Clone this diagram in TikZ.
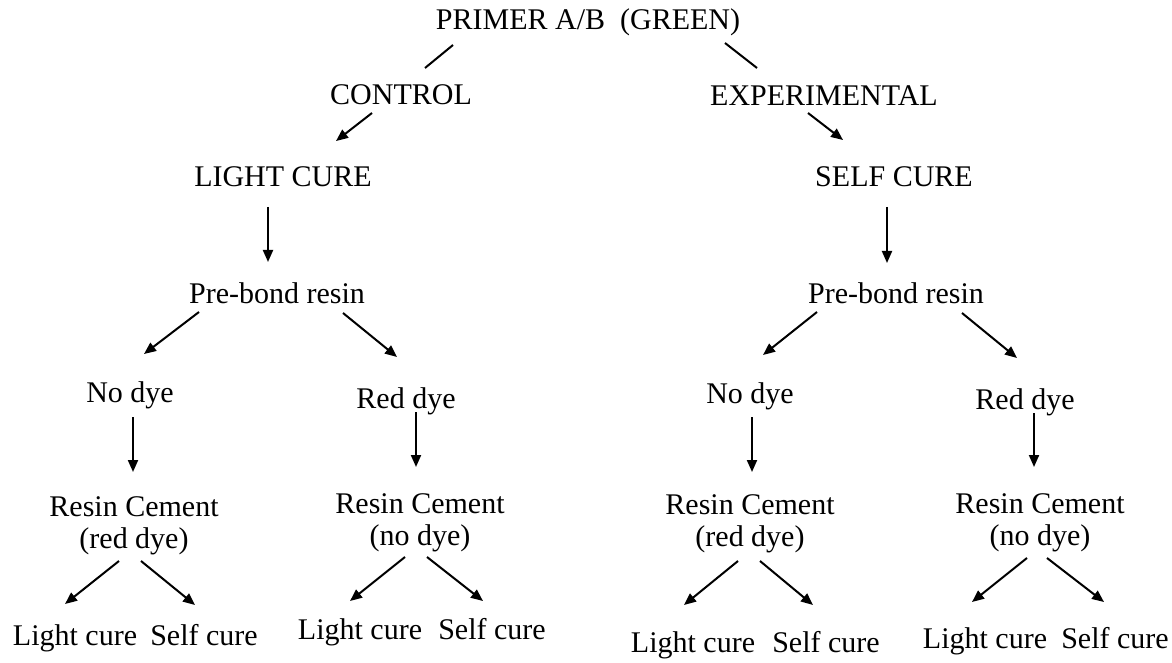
\documentclass[tikz,border=0pt]{standalone}
\usepackage{fontspec}
\setmainfont{Liberation Serif}
\usetikzlibrary{arrows.meta}
\begin{document}
\begin{tikzpicture}[x=0.5pt,y=-0.5pt,
    lbl/.style={inner sep=0pt,anchor=base,font=\fontsize{15}{15.75}\selectfont},
    twolbl/.style={lbl,align=center},
    link/.style={line width=1pt},
    arr/.style={line width=1pt,-{Triangle[length=6pt,width=5pt]}}]
    \useasboundingbox (0,0) rectangle (1172,663);%

    \node[lbl] (P) at (588,30) {PRIMER A/B\ \ (GREEN)};%
    \node[lbl] (C) at (401,105) {CONTROL};%
    \node[lbl] (E) at (824,106) {EXPERIMENTAL};%
    \node[lbl] (LC) at (283,187) {LIGHT CURE};%
    \node[lbl] (SC) at (894,187) {SELF CURE};%

    \node[lbl] (PL) at (277,303) {Pre-bond resin};%
    \node[lbl] (PR) at (896,303) {Pre-bond resin};%

    \node[lbl] (NL) at (130,402) {No dye};%
    \node[lbl] (RL) at (406,408) {Red dye};%
    \node[lbl] (NR) at (750,403) {No dye};%
    \node[lbl] (RR) at (1025,409) {Red dye};%

    \node[twolbl] (CL1) at (134,548) {Resin Cement\\(red dye)};%
    \node[twolbl] (CL2) at (420,545) {Resin Cement\\(no dye)};%
    \node[twolbl] (CR1) at (750,546) {Resin Cement\\(red dye)};%
    \node[twolbl] (CR2) at (1040,545) {Resin Cement\\(no dye)};%

    \node[lbl] (LL1) at (75,645) {Light cure};%
    \node[lbl] (SL1) at (204,645) {Self cure};%
    \node[lbl] (LL2) at (360,639) {Light cure};%
    \node[lbl] (SL2) at (492,639) {Self cure};%
    \node[lbl] (LR1) at (693,652) {Light cure};%
    \node[lbl] (SR1) at (826,652) {Self cure};%
    \node[lbl] (LR2) at (985,648) {Light cure};%
    \node[lbl] (SR2) at (1115,648) {Self cure};%

    \draw[link] ([shift={(-135,15)}]P.base) -- ([shift={(24,-37)}]C.base);%
    \draw[link] ([shift={(137,13)}]P.base) -- ([shift={(-67,-38)}]E.base);%
    \draw[arr] ([shift={(-29,8)}]C.base) -- ([shift={(53,-46)}]LC.base);%
    \draw[arr] ([shift={(-16,7)}]E.base) -- ([shift={(-51,-47)}]SC.base);%

    \draw[arr] ([shift={(-15,20)}]LC.base) -- ([shift={(-9,-41)}]PL.base);%
    \draw[arr] ([shift={(-7,20)}]SC.base) -- ([shift={(-9,-40)}]PR.base);%

    \draw[arr] ([shift={(-78,9)}]PL.base) -- ([shift={(14,-48)}]NL.base);%
    \draw[arr] ([shift={(66,10)}]PL.base) -- ([shift={(-9,-51)}]RL.base);%
    \draw[arr] ([shift={(-79,9)}]PR.base) -- ([shift={(13,-48)}]NR.base);%
    \draw[arr] ([shift={(66,10)}]PR.base) -- ([shift={(-8,-51)}]RR.base);%

    \draw[arr] ([shift={(3,15)}]NL.base) -- ([shift={(-1,-76)}]CL1.base);%
    \draw[arr] ([shift={(10,4)}]RL.base) -- ([shift={(-4,-78)}]CL2.base);%
    \draw[arr] ([shift={(2,14)}]NR.base) -- ([shift={(2,-74)}]CR1.base);%
    \draw[arr] ([shift={(9,4)}]RR.base) -- ([shift={(-6,-78)}]CR2.base);%

    \draw[arr] ([shift={(-15,13)}]CL1.base) -- ([shift={(-10,-41)}]LL1.base);%
    \draw[arr] ([shift={(7,13)}]CL1.base) -- ([shift={(-9,-40)}]SL1.base);%
    \draw[arr] ([shift={(-15,12)}]CL2.base) -- ([shift={(-10,-38)}]LL2.base);%
    \draw[arr] ([shift={(7,12)}]CL2.base) -- ([shift={(-9,-38)}]SL2.base);%
    \draw[arr] ([shift={(-12,15)}]CR1.base) -- ([shift={(-9,-47)}]LR1.base);%
    \draw[arr] ([shift={(10,15)}]CR1.base) -- ([shift={(-13,-47)}]SR1.base);%
    \draw[arr] ([shift={(-13,13)}]CR2.base) -- ([shift={(-13,-46)}]LR2.base);%
    \draw[arr] ([shift={(7,13)}]CR2.base) -- ([shift={(-11,-46)}]SR2.base);%
  \end{tikzpicture}
\end{document}
